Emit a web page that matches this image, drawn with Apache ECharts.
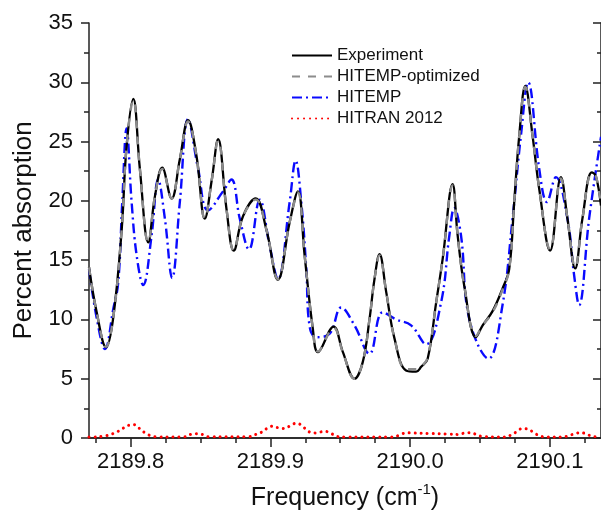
<!DOCTYPE html>
<html>
<head>
<meta charset="utf-8">
<script src="https://cdn.jsdelivr.net/npm/echarts@6/dist/echarts.min.js"></script>
<style>html,body{margin:0;padding:0;background:#fff}#c{width:601px;height:516px}</style>
</head>
<body>
<div id="c"></div>
<script>
// ---- Data (frequency in cm-1, percent absorption) ----
var expFreq = [2189.7702,2189.7757,2189.7824,2189.7876,2189.7936,2189.7971,2189.8019,2189.8066,2189.8126,2189.8174,2189.8226,2189.8293,2189.8352,2189.8411,2189.8471,2189.8531,2189.8581,2189.8626,2189.8686,2189.8738,2189.8804,2189.8895,2189.8971,2189.9054,2189.9138,2189.9197,2189.9245,2189.9304,2189.9340,2189.9452,2189.9519,2189.9602,2189.9661,2189.9709,2189.9745,2189.9781,2189.9829,2189.9888,2189.9971,2190.0043,2190.0079,2190.0126,2190.0186,2190.0233,2190.0304,2190.0340,2190.0388,2190.0471,2190.0519,2190.0590,2190.0661,2190.0709,2190.0745,2190.0781,2190.0824,2190.0876,2190.0924,2190.1002,2190.1079,2190.1126,2190.1181,2190.1233,2190.1300,2190.1329,2190.1366];
var expVal  = [14.4,10.6,7.65,10.2,17.6,24.6,28.6,22.7,16.5,20.4,22.8,20.2,23.5,26.8,23.8,18.5,21.8,25.2,19.3,15.8,18.7,20.2,17.6,13.35,18.2,20.8,15.4,9.2,7.24,9.4,7.24,5.0,6.4,10.0,13.4,15.5,12.3,8.4,5.7,5.6,6.0,6.7,11.4,15.1,21.4,17.1,12.8,8.5,9.5,10.7,12.6,14.25,19.9,25.5,29.7,25.5,21.0,15.8,22.0,18.5,14.3,18.5,22.4,22.1,19.6];

var optFreq = [2189.7702,2189.7757,2189.7824,2189.7876,2189.7936,2189.7971,2189.8019,2189.8066,2189.8126,2189.8174,2189.8226,2189.8293,2189.8352,2189.8411,2189.8471,2189.8531,2189.8581,2189.8626,2189.8686,2189.8738,2189.8804,2189.8895,2189.8971,2189.9054,2189.9138,2189.9197,2189.9245,2189.9304,2189.9340,2189.9452,2189.9519,2189.9602,2189.9661,2189.9709,2189.9745,2189.9781,2189.9829,2189.9888,2189.9971,2190.0043,2190.0079,2190.0126,2190.0186,2190.0233,2190.0304,2190.0340,2190.0388,2190.0471,2190.0519,2190.0590,2190.0661,2190.0709,2190.0745,2190.0781,2190.0824,2190.0876,2190.0924,2190.1002,2190.1079,2190.1126,2190.1181,2190.1233,2190.1300,2190.1329,2190.1366];
var optVal  = [14.4,10.6,7.7,10.2,17.6,24.6,28.5,22.7,16.5,20.4,22.7,20.2,23.5,26.7,23.8,18.5,21.8,25.1,19.3,15.8,18.7,20.1,17.6,13.4,18.2,20.7,15.4,9.2,7.3,9.3,7.2,5.0,6.4,10.0,13.4,15.4,12.3,8.4,5.8,5.8,6.0,6.8,11.4,15.1,21.3,17.1,12.8,8.6,9.5,10.6,12.5,14.2,19.9,25.5,29.6,25.5,21.0,15.9,21.9,18.5,14.4,18.5,22.3,22.1,19.6];

var hitFreq = [2189.7702,2189.7759,2189.7816,2189.7876,2189.7911,2189.7940,2189.7971,2189.8007,2189.8043,2189.8090,2189.8150,2189.8197,2189.8245,2189.8297,2189.8352,2189.8411,2189.8483,2189.8554,2189.8661,2189.8721,2189.8781,2189.8847,2189.8924,2189.8995,2189.9054,2189.9138,2189.9181,2189.9221,2189.9257,2189.9281,2189.9329,2189.9424,2189.9507,2189.9602,2189.9709,2189.9804,2189.9900,2190.0007,2190.0114,2190.0221,2190.0281,2190.0316,2190.0364,2190.0424,2190.0561,2190.0661,2190.0733,2190.0793,2190.0845,2190.0924,2190.0979,2190.1043,2190.1126,2190.1174,2190.1209,2190.1281,2190.1366];
var hitVal  = [14.25,10.0,7.5,10.9,13.1,19.9,26.1,19.9,15.4,12.9,17.1,21.8,18.5,13.5,19.9,26.9,22.7,19.2,20.8,21.8,18.5,15.9,20.1,16.2,13.4,19.9,23.4,19.9,14.25,9.4,8.5,8.8,11.0,9.5,7.1,10.6,10.0,9.5,7.9,11.4,17.1,19.4,17.1,10.0,6.7,11.2,18.5,25.5,30.0,22.7,19.9,22.0,18.5,13.7,11.2,18.5,25.4];

var hitranFreq = [2189.7702,2189.7733,2189.7816,2189.7859,2189.7900,2189.7940,2189.7983,2189.8026,2189.8066,2189.8107,2189.8150,2189.8193,2189.8388,2189.8438,2189.8481,2189.8519,2189.8559,2189.8838,2189.8895,2189.8938,2189.8981,2189.9016,2189.9059,2189.9102,2189.9145,2189.9188,2189.9231,2189.9266,2189.9309,2189.9352,2189.9395,2189.9438,2189.9474,2189.9531,2189.9874,2189.9931,2189.9974,2190.0016,2190.0138,2190.0281,2190.0352,2190.0388,2190.0431,2190.0474,2190.0516,2190.0688,2190.0724,2190.0759,2190.0802,2190.0845,2190.0888,2190.0931,2190.0974,2190.1095,2190.1138,2190.1181,2190.1216,2190.1259,2190.1295,2190.1338,2190.1366];
var hitranVal  = [0.08,0.08,0.17,0.31,0.5,0.78,1.06,1.12,0.78,0.4,0.17,0.08,0.1,0.33,0.36,0.28,0.1,0.1,0.3,0.5,0.85,1.0,0.85,0.8,1.06,1.26,0.98,0.6,0.42,0.5,0.55,0.36,0.14,0.08,0.08,0.28,0.45,0.42,0.38,0.33,0.3,0.42,0.45,0.3,0.13,0.08,0.28,0.5,0.8,0.75,0.42,0.17,0.08,0.08,0.22,0.36,0.45,0.36,0.17,0.1,0.08];

var seriesNames = ['Experiment','HITEMP-optimized','HITEMP','HITRAN 2012'];
var xMajorTicks = [2189.8, 2189.9, 2190.0, 2190.1];
var xMinorTicks = [2189.775, 2189.825, 2189.85, 2189.875, 2189.925, 2189.95, 2189.975, 2190.025, 2190.05, 2190.075, 2190.125];
var yMajorTicks = [0, 5, 10, 15, 20, 25, 30, 35];
var yMinorTicks = [2.5, 7.5, 12.5, 17.5, 22.5, 27.5, 32.5];
var xMin = 2189.7702, xMax = 2190.1366, yMin = 0, yMax = 35;

function pairs(f, v) { return f.map(function (x, i) { return [x, v[i]]; }); }

var FONT = "'Liberation Sans', Arial, sans-serif";
var axisLine = { show: true, lineStyle: { color: '#222', width: 1.5 } };

function xAx(pos, ticks, len, inside, labels, lineShow) {
  return {
    type: 'value', position: pos, min: xMin, max: xMax,
    axisLine: lineShow ? axisLine : { show: false },
    splitLine: { show: false },
    axisTick: { show: true, inside: inside, length: len, customValues: ticks, lineStyle: { color: '#222', width: 1.5 } },
    axisLabel: labels ? { show: true, customValues: ticks, margin: 13, color: '#111', fontSize: 22, fontFamily: FONT,
      formatter: function (v) { return v.toFixed(1); } } : { show: false }
  };
}
function yAx(pos, ticks, len, inside, labels, lineShow) {
  return {
    type: 'value', position: pos, min: yMin, max: yMax,
    axisLine: lineShow ? axisLine : { show: false },
    splitLine: { show: false },
    axisTick: { show: true, inside: inside, length: len, customValues: ticks, lineStyle: { color: '#222', width: 1.5 } },
    axisLabel: labels ? { show: true, customValues: ticks, margin: 16, color: '#111', fontSize: 22, fontFamily: FONT } : { show: false }
  };
}

var xAxes = [
  xAx('bottom', xMajorTicks, 9, false, true, true),
  xAx('bottom', xMinorTicks, 5, false, false, false),
  xAx('top', xMajorTicks, 8, true, false, true),
  xAx('top', xMinorTicks, 4, true, false, false)
];
xAxes[0].name = '{a|Frequency (cm}{s|-1}{a|)}';
xAxes[0].nameLocation = 'middle';
xAxes[0].nameGap = 44;
xAxes[0].nameTextStyle = { rich: { a: { fontSize: 25, fontFamily: FONT, color: '#111', verticalAlign: 'bottom' },
  s: { fontSize: 15, fontFamily: FONT, color: '#111', verticalAlign: 'top', padding: [0, 0, 14, 0] } } };

var yAxes = [
  yAx('left', yMajorTicks, 8, false, true, true),
  yAx('left', yMinorTicks, 5, false, false, false),
  yAx('right', yMajorTicks, 8, true, false, true),
  yAx('right', yMinorTicks, 4, true, false, false)
];
yAxes[0].name = 'Percent absorption';
yAxes[0].nameLocation = 'middle';
yAxes[0].nameGap = 52;
yAxes[0].nameTextStyle = { fontSize: 26, fontFamily: FONT, color: '#111' };

var chart = echarts.init(document.getElementById('c'), null, { renderer: 'canvas' });
chart.setOption({
  animation: false,
  backgroundColor: '#fff',
  grid: { left: 89, top: 23, right: -1, bottom: 76.7, containLabel: false },
  xAxis: xAxes,
  yAxis: yAxes,
  legend: {
    orient: 'vertical', left: 291, top: 47, padding: 0,
    itemWidth: 40, itemHeight: 14, itemGap: 4,
    itemStyle: { opacity: 0 },
    textStyle: { fontSize: 17, fontFamily: FONT, color: '#111', padding: [0, 0, 0, 0] },
    data: seriesNames
  },
  series: [
    { name: seriesNames[0], type: 'line', data: pairs(expFreq, expVal), smooth: 0.4, symbol: 'none',
      lineStyle: { color: '#000', width: 2.3 }, itemStyle: { color: '#000' }, z: 3 },
    { name: seriesNames[1], type: 'line', data: pairs(optFreq, optVal), smooth: 0.4, symbol: 'none',
      lineStyle: { color: '#8c8c8c', width: 2.4, type: [8, 8] }, itemStyle: { color: '#8c8c8c' }, z: 4 },
    { name: seriesNames[2], type: 'line', data: pairs(hitFreq, hitVal), smooth: 0.4, symbol: 'none',
      lineStyle: { color: '#0a0aff', width: 2.4, type: [10, 4, 2, 4] }, itemStyle: { color: '#0a0aff' }, z: 2 },
    { name: seriesNames[3], type: 'line', data: pairs(hitranFreq, hitranVal), smooth: 0.4, symbol: 'none',
      lineStyle: { color: '#ff0000', width: 3, type: [0.01, 6], cap: 'round' }, itemStyle: { color: '#ff0000' }, z: 1 }
  ]
});
</script>
</body>
</html>
